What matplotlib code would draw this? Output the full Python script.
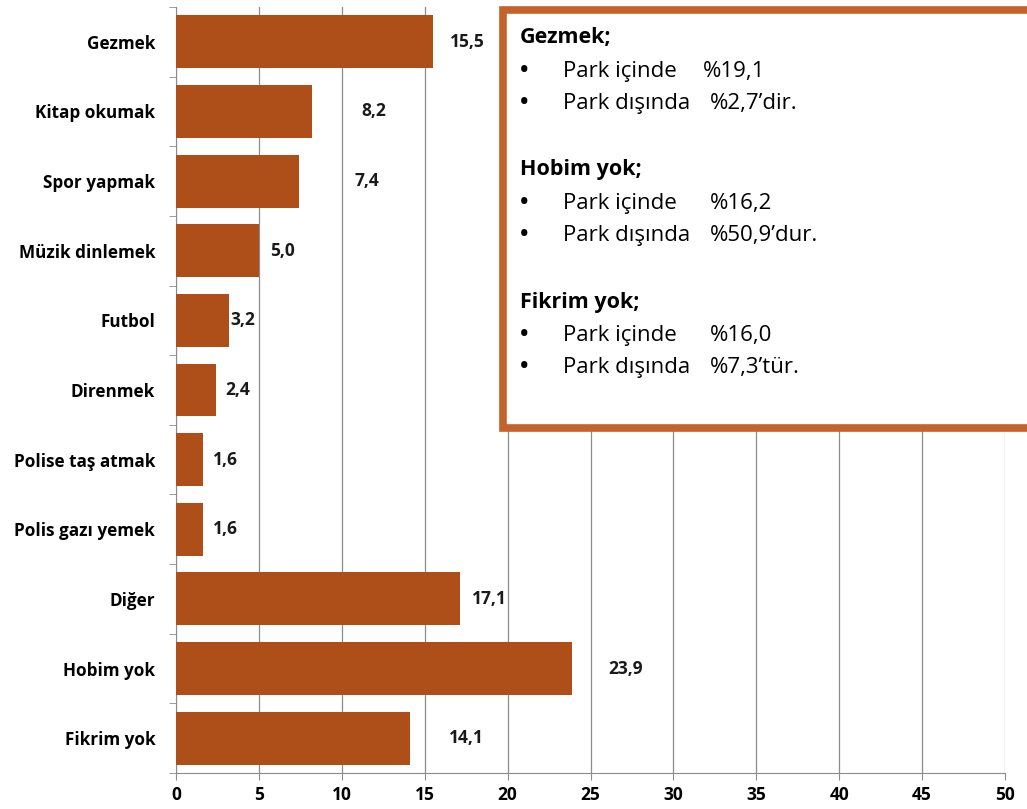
import matplotlib.pyplot as plt
from matplotlib.patches import Rectangle

# data
categories = ["Gezmek", "Kitap okumak", "Spor yapmak", "Müzik dinlemek", "Futbol",
              "Direnmek", "Polise taş atmak", "Polis gazı yemek", "Diğer",
              "Hobim yok", "Fikrim yok"]
values = [15.5, 8.2, 7.4, 5.0, 3.2, 2.4, 1.6, 1.6, 17.1, 23.9, 14.1]
value_labels = ["15,5", "8,2", "7,4", "5,0", "3,2", "2,4", "1,6", "1,6", "17,1", "23,9", "14,1"]
# where each value label sits (data units), as in the original slide
label_x = [17.6, 11.9, 11.5, 6.4, 4.0, 3.7, 3.0, 3.0, 18.9, 27.1, 17.5]
x_ticks = [0, 5, 10, 15, 20, 25, 30, 35, 40, 45, 50]

box_lines = [
    ("Gezmek;", None, None),
    ("•", "Park içinde", "%19,1"),
    ("•", "Park dışında", "%2,7’dir."),
    ("", None, None),
    ("Hobim yok;", None, None),
    ("•", "Park içinde", "%16,2"),
    ("•", "Park dışında", "%50,9’dur."),
    ("", None, None),
    ("Fikrim yok;", None, None),
    ("•", "Park içinde", "%16,0"),
    ("•", "Park dışında", "%7,3’tür."),
]

bar_color = "#AE4F19"
box_color = "#C5622C"
grid_color = "#8C8C8C"

plt.rcParams['font.family'] = ['Open Sans', 'DejaVu Sans']

fig = plt.figure(figsize=(10.27, 8.09), dpi=100)
ax = fig.add_axes([176 / 1027, 1 - 773 / 809, 829 / 1027, 766 / 809])

ypos = list(range(len(categories)))
ax.barh(ypos, values, height=0.76, color=bar_color, zorder=3)

for y, lx, lab in zip(ypos, label_x, value_labels):
    ax.text(lx, y, lab, ha="center", va="center", fontsize=12.5,
            fontweight="bold", color="#1a1a1a", zorder=4)

ax.set_xlim(0, 50)
ax.set_ylim(len(categories) - 0.5, -0.5)
ax.set_xticks(x_ticks)
ax.set_xticklabels([str(t) for t in x_ticks], fontsize=12.5, fontweight="bold")
ax.set_yticks(ypos)
ax.set_yticklabels(categories, fontsize=12.3, fontweight="bold")
ax.set_yticks([i + 0.5 for i in range(-1, len(categories))], minor=True)
ax.tick_params(axis="y", which="major", length=0, pad=15)
ax.tick_params(axis="y", which="minor", length=5, color=grid_color)
ax.tick_params(axis="x", length=5, color=grid_color, pad=4)
ax.xaxis.grid(True, color=grid_color, linewidth=0.9, zorder=0)
ax.set_axisbelow(True)
for s in ["top", "right"]:
    ax.spines[s].set_visible(False)
for s in ["left", "bottom"]:
    ax.spines[s].set_color(grid_color)

# annotation box on top right
fig.patches.append(Rectangle((503 / 1027, 1 - 428 / 809), 540 / 1027, 418 / 809,
                             transform=fig.transFigure, facecolor="white",
                             edgecolor=box_color, linewidth=5.5, zorder=10))
y0 = 38
for i, (a, b, c) in enumerate(box_lines):
    yy = 1 - (y0 + i * 33) / 809
    if b is None:
        fig.text(520 / 1027, yy, a, fontsize=15.5, fontweight="bold",
                 va="center", ha="left", zorder=11)
    else:
        fig.text(520 / 1027, yy, a, fontsize=16, fontweight="bold",
                 va="center", ha="left", zorder=11)
        fig.text(563 / 1027, yy, b, fontsize=16, va="center", ha="left", zorder=11)
        cx = 703 if c == "%19,1" else 710
        fig.text(cx / 1027, yy, c, fontsize=16, va="center", ha="left", zorder=11)

fig.savefig("out.png", dpi=100)
